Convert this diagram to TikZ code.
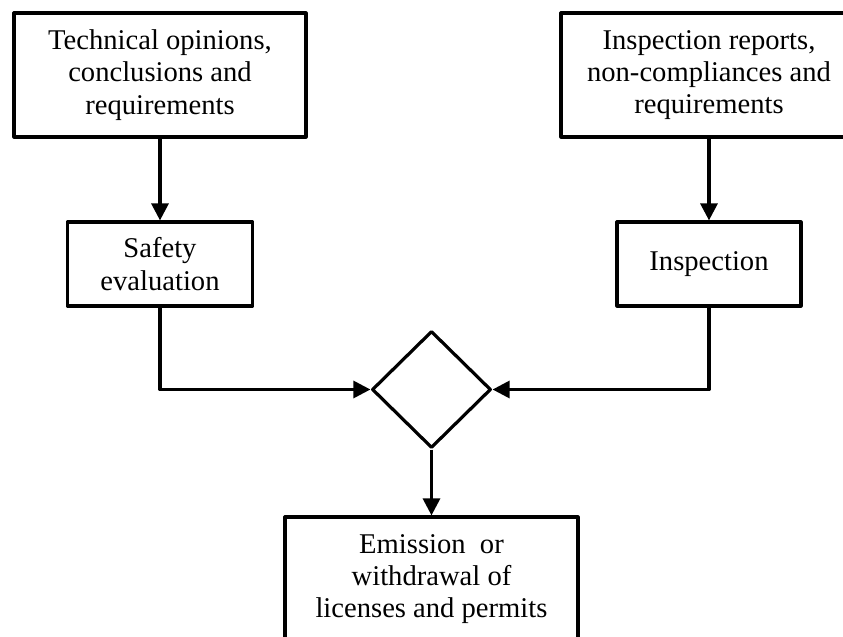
\documentclass[tikz,border=0pt]{standalone}
\usepackage{fontspec}
\setmainfont{Liberation Serif}
\usetikzlibrary{arrows.meta,shapes.geometric}

\begin{document}
\begin{tikzpicture}[x=0.5pt,y=-0.5pt,line width=1.6pt,line join=round,
        >={Triangle[length=8.5pt,width=8.5pt]}]
            \useasboundingbox (0,0) rectangle (843,637);
            \clip (0,0) rectangle (843,637);
            \begin{scope}[every node/.style={draw=black,align=center,inner sep=0pt,
                    font=\fontsize{14.3}{16.2}\selectfont}]
                \node[minimum width=146pt,minimum height=62pt] (ops) at (160,75)
                    {Technical opinions,\\conclusions and\\requirements};
                \node[minimum width=148pt,minimum height=62pt] (rep) at (709,75)
                    {Inspection reports,\\non-compliances and\\requirements};
                \node[minimum width=92.5pt,minimum height=42pt] (saf) at (160,264)
                    {Safety\\evaluation};
                \node[minimum width=92pt,minimum height=42pt] (insp) at (709,264)
                    {Inspection};
                \node[diamond,minimum width=59.5pt,minimum height=58.5pt] (dec) at (431.5,389.5) {};
                \node[minimum width=146.5pt,minimum height=62pt] (out) at (431.5,579)
                    {Emission\ \ or\\withdrawal of\\licenses and permits};
            \end{scope}
            \draw (ops) edge [->] (saf);
            \draw (rep) edge [->] (insp);
            \draw [->] (saf.south) |- (dec.west);
            \draw [->] (insp.south) |- (dec.east);
            \draw (dec) edge [->] (out);
        \end{tikzpicture}
\end{document}
